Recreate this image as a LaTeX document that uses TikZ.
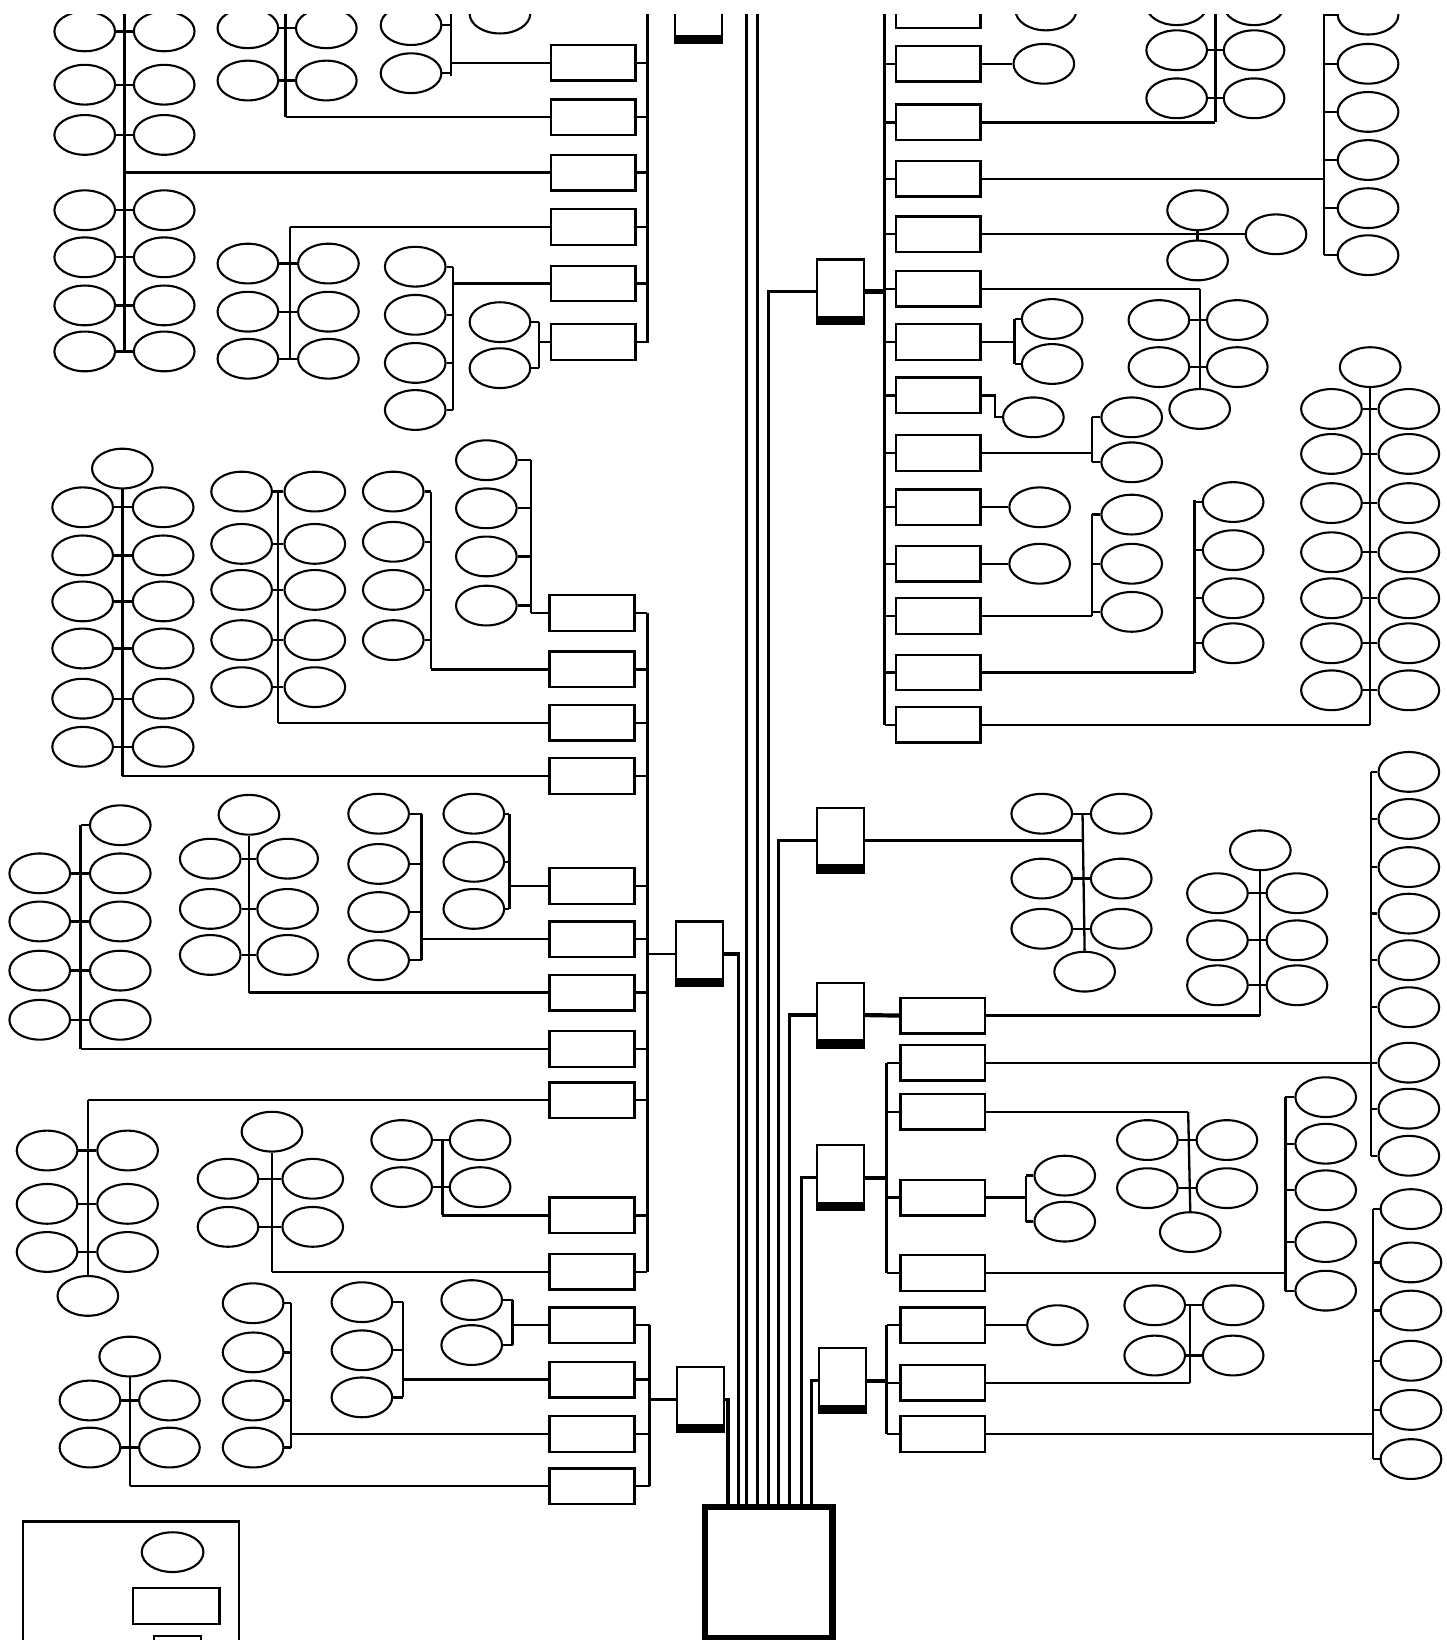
\documentclass[tikz,border=0pt]{standalone}
\usetikzlibrary{shapes.geometric}
\newcommand\mySpine[4]{\coordinate (#1t) at (#2,#3); \coordinate (#1b) at (#2,#4); \draw[wire] (#1t) -- (#1b);}
\newcommand\myPair[4]{\node[ell] (#1l) at (#2,#4) {}; \node[ell] (#1r) at (#3,#4) {}; \draw[wire] (#1l) -- (#1r);}
\newcommand\myPairs[4]{\foreach \yy [count=\ii] in {#4} {\myPair{#1\ii}{#2}{#3}{\yy}}}
\newcommand\myColL[3]{\foreach \yy [count=\ii] in {#3} {\node[ell] (#1\ii) at (#2,\yy) {}; \draw[wire] (#1\ii.east) -- (#1\ii.east -| #1t);}}
\newcommand\myColR[3]{\foreach \yy [count=\ii] in {#3} {\node[ell] (#1\ii) at (#2,\yy) {}; \draw[wire] (#1\ii.west) -- (#1\ii.west -| #1t);}}
\newcommand\myLinkW[2]{\draw[wire] (#1.west) -- (#1.west -| #2t);}
\newcommand\myLinkE[2]{\draw[wire] (#1.east) -- (#1.east -| #2t);}
\begin{document}
\begin{tikzpicture}[x=0.5pt,y=-0.5pt,
 ell/.style={ellipse,draw,line width=1pt,minimum width=29pt,minimum height=19pt,inner sep=0pt},
 rbox/.style={rectangle,draw,line width=1.1pt,minimum width=40.5pt,minimum height=17pt,inner sep=0pt},
 pbox/.style={rectangle,draw,line width=1.1pt,minimum width=22.5pt,minimum height=31pt,inner sep=0pt,
   path picture={\fill (path picture bounding box.south west) rectangle ([yshift=4pt]path picture bounding box.south east);}},
 wire/.style={line width=1.1pt},
 bus/.style={line width=1.4pt},
 trunk/.style={line width=1.6pt}]
\useasboundingbox (0,0) rectangle (1383,1568);
\clip (0,14) rectangle (1383,1568);

% ================= LEFT TOP (cut parent) =================
\node[pbox] (PT) at (668,10) {};
\coordinate (BLt) at (619,0); \coordinate (BLb) at (619,328);
\draw[bus] (BLt) -- (BLb);
\foreach \yy [count=\ii] in {60,112,165,217,271,327} {\node[rbox] (ra\ii) at (567,\yy) {}; \draw[wire] (ra\ii.east) -- (ra\ii.east -| BLt);}
\mySpine{gA}{119}{0}{336} \myPairs{gA}{81}{157}{30,81,129,201,246,292,336} \myLinkW{ra3}{gA}
\mySpine{gB}{273}{0}{112} \myPairs{gB}{237}{312}{27,77} \myLinkW{ra2}{gB}
\mySpine{gC}{431}{0}{73} \myColL{gC}{393}{24,70} \myLinkW{ra1}{gC}
\node[ell] (gCx) at (478,13) {};
\mySpine{gD}{277}{217}{343} \myPairs{gD}{237}{314}{252,298,343} \myLinkW{ra4}{gD}
\mySpine{gE}{433}{255}{392} \myColL{gE}{397}{255,301,347,392} \myLinkW{ra5}{gE}
\mySpine{gF}{515}{308}{352} \myColL{gF}{478}{308,352} \myLinkW{ra6}{gF}

% ================= P_L1 =================
\node[pbox] (PL1) at (669,912) {};
\coordinate (BMt) at (619,586); \coordinate (BMb) at (619,1216);
\draw[bus] (BMt) -- (BMb);
\draw[wire] (PL1.west) -- (PL1.west -| BMt);
\foreach \yy [count=\ii] in {586,640,691,742,847,898,949,1003,1052,1162,1216} {\node[rbox] (rb\ii) at (566,\yy) {}; \draw[wire] (rb\ii.east) -- (rb\ii.east -| BMt);}
\mySpine{gJ}{508}{440}{586} \myColL{gJ}{465}{440,486,532,579} \myLinkW{rb1}{gJ}
\mySpine{gI}{412}{470}{640} \myColL{gI}{376}{470,518,564,612} \myLinkW{rb2}{gI}
\mySpine{gH}{266}{470}{691} \myPairs{gH}{231}{301}{470,520,564,612,657} \myLinkW{rb3}{gH}
\node[ell] (gG0) at (117,448) {}; \coordinate (gGt) at (gG0.south); \coordinate (gGb) at (117,742);
\draw[wire] (gGt) -- (gGb);
\myPairs{gG}{79}{156}{485,531,575,620,668,714} \myLinkW{rb4}{gG}
\mySpine{gN}{487}{778}{869} \myColL{gN}{453}{778,824,869} \myLinkW{rb5}{gN}
\mySpine{gM}{403}{778}{918} \myColL{gM}{362}{778,826,872,918} \myLinkW{rb6}{gM}
\node[ell] (gL0) at (238,779) {}; \coordinate (gLt) at (gL0.south); \coordinate (gLb) at (238,949);
\draw[wire] (gLt) -- (gLb);
\myPairs{gL}{201}{275}{821,869,913} \myLinkW{rb7}{gL}
\mySpine{gK}{77}{789}{1003} \myColR{gK}{115}{789} \myPairs{gKp}{38}{115}{835,881,928,975} \myLinkW{rb8}{gK}
\coordinate (gOt) at (84,1052); \node[ell] (gOz) at (84,1239) {};
\draw[wire] (gOt) -- (gOz.north);
\myPairs{gO}{45}{122}{1100,1151,1197} \myLinkW{rb9}{gO}
\mySpine{gQ}{423}{1090}{1162} \myPairs{gQ}{384}{459}{1090,1135} \myLinkW{rb10}{gQ}
\node[ell] (gP0) at (260,1082) {}; \coordinate (gPt) at (gP0.south); \coordinate (gPb) at (260,1216);
\draw[wire] (gPt) -- (gPb);
\myPairs{gP}{218}{299}{1127,1173} \myLinkW{rb11}{gP}

% ================= P_L2 =================
\node[pbox] (PL2) at (670,1338) {};
\coordinate (BNt) at (621,1267); \coordinate (BNb) at (621,1421);
\draw[bus] (BNt) -- (BNb);
\draw[wire] (PL2.west) -- (PL2.west -| BNt);
\foreach \yy [count=\ii] in {1267,1319,1371,1421} {\node[rbox] (rc\ii) at (566,\yy) {}; \draw[wire] (rc\ii.east) -- (rc\ii.east -| BNt);}
\mySpine{gR}{490}{1243}{1286} \myColL{gR}{451}{1243,1286} \myLinkW{rc1}{gR}
\mySpine{gS}{385}{1245}{1336} \myColL{gS}{346}{1245,1291,1336} \myLinkW{rc2}{gS}
\mySpine{gT}{278}{1246}{1384} \myColL{gT}{242}{1246,1293,1339,1384} \myLinkW{rc3}{gT}
\node[ell] (gU0) at (124,1297) {}; \coordinate (gUt) at (gU0.south); \coordinate (gUb) at (124,1421);
\draw[wire] (gUt) -- (gUb);
\myPairs{gU}{86}{162}{1339,1384} \myLinkW{rc4}{gU}

% ================= P_R1 =================
\node[pbox] (PR1) at (803.5,279) {};
\coordinate (BRt) at (846,0); \coordinate (BRb) at (846,693);
\draw[bus] (BRt) -- (BRb);
\draw[line width=2.4pt] (PR1.east) -- (PR1.east -| BRt);
\foreach \yy [count=\ii from 0] in {10,61,117,171,224,276,327,378,433,485,539,589,643,693} {\node[rbox] (rd\ii) at (897,\yy) {}; \draw[wire] (rd\ii.west) -- (rd\ii.west -| BRt);}
\node[ell] (h0) at (1000,10) {}; \draw[wire] (rd0) -- (h0);
\node[ell] (h1) at (998,61) {}; \draw[wire] (rd1) -- (h1);
\mySpine{gV}{1162}{0}{117} \myPairs{gV}{1125}{1199}{5,48,94} \myLinkE{rd2}{gV}
\mySpine{gW}{1266}{0}{244} \myColR{gW}{1308}{14,61,107,153,199,244} \myLinkE{rd3}{gW}
\node[ell] (h4) at (1220,224) {}; \draw[wire] (rd4) -- (h4);
\node[ell] (v4a) at (1145,201) {}; \node[ell] (v4b) at (1145,249) {}; \draw[wire] (v4a) -- (v4b);
\coordinate (gXt) at (1147,276); \node[ell] (gXz) at (1147,391) {};
\draw[wire] (gXt) -- (gXz.north);
\myPairs{gX}{1108}{1183}{306,351} \myLinkE{rd5}{gX}
\mySpine{gY}{970}{305}{348} \myColR{gY}{1006}{305,348} \myLinkE{rd6}{gY}
\node[ell] (h7) at (988,399) {}; \draw[wire] (rd7.east) -- ++(13,0) |- (h7.west);
\mySpine{gZ}{1044}{399}{442} \myColR{gZ}{1082}{399,442} \myLinkE{rd8}{gZ}
\node[ell] (h9) at (994,485) {}; \draw[wire] (rd9) -- (h9);
\node[ell] (h10) at (994,539) {}; \draw[wire] (rd10) -- (h10);
\mySpine{gAA}{1044}{491}{589} \myColR{gAA}{1082}{492,539,585} \myLinkE{rd11}{gAA}
\mySpine{gAB}{1142}{478}{643} \myColR{gAB}{1179}{480,526,572,615} \myLinkE{rd12}{gAB}
\node[ell] (gAC0) at (1310,351) {}; \coordinate (gACt) at (gAC0.south); \coordinate (gACb) at (1310,693);
\draw[wire] (gACt) -- (gACb);
\myPairs{gAC}{1273}{1347}{391,434,481,528,572,615,660} \myLinkE{rd13}{gAC}

% ================= P_R2 =================
\node[pbox] (PR2) at (803.5,803.5) {};
\coordinate (gBBt) at (1035,778); \node[ell] (gBBz) at (1037,929) {};
\draw[wire] (gBBt) -- (gBBz.north);
\myPairs{gBB}{996}{1072}{778,840,888}
\draw[wire] (PR2.east) -- (PR2.east -| gBBt);

% ================= P_R3 =================
\node[pbox] (PR3) at (803.5,970.5) {};
\node[rbox] (re1) at (901.5,971) {};
\draw[line width=2pt] (PR3.east) -- (re1.west);
\node[ell] (gCC0) at (1205,813) {}; \coordinate (gCCt) at (gCC0.south); \coordinate (gCCb) at (1205,971);
\draw[wire] (gCCt) -- (gCCb);
\myPairs{gCC}{1164}{1240}{854,899,942} \myLinkE{re1}{gCC}

% ================= P_R4 =================
\node[pbox] (PR4) at (803.5,1126) {};
\coordinate (BFt) at (847.6,1016); \coordinate (BFb) at (847.6,1217);
\draw[bus] (BFt) -- (BFb);
\draw[line width=2pt] (PR4.east) -- (PR4.east -| BFt);
\foreach \yy [count=\ii] in {1016,1063,1145,1217} {\node[rbox] (rf\ii) at (901.5,\yy) {}; \draw[wire] (rf\ii.west) -- (rf\ii.west -| BFt);}
\mySpine{gDD}{1310.5}{738}{1105} \myColR{gDD}{1347}{738,783,829,873.5,918,963,1016,1060,1105}
\draw[wire] (rf1.east) -- (gDD7.west);
\coordinate (gEEt) at (1136,1063); \node[ell] (gEEz) at (1138,1178) {};
\draw[wire] (gEEt) -- (gEEz.north);
\myPairs{gEE}{1097}{1173}{1090,1136} \myLinkE{rf2}{gEE}
\mySpine{gFF}{981}{1124}{1168} \myColR{gFF}{1018}{1124,1168} \myLinkE{rf3}{gFF}
\mySpine{gGG}{1229}{1049}{1234} \myColR{gGG}{1267.5}{1049,1093.5,1138,1187.5,1234} \myLinkE{rf4}{gGG}

% ================= P_R5 =================
\node[pbox] (PR5) at (805.5,1320) {};
\coordinate (BGt) at (847.6,1267); \coordinate (BGb) at (847.6,1371);
\draw[bus] (BGt) -- (BGb);
\draw[line width=2pt] (PR5.east) -- (PR5.east -| BGt);
\foreach \yy [count=\ii] in {1267,1322,1371} {\node[rbox] (rg\ii) at (901.5,\yy) {}; \draw[wire] (rg\ii.west) -- (rg\ii.west -| BGt);}
\node[ell] (hg1) at (1011,1267) {}; \draw[wire] (rg1) -- (hg1);
\mySpine{gHH}{1138}{1248}{1322} \myPairs{gHH}{1104}{1179}{1248,1296} \myLinkE{rg2}{gHH}
\mySpine{gII}{1313}{1156}{1395} \myColR{gII}{1349}{1156,1207,1253,1301,1348,1395} \myLinkE{rg3}{gII}

% ================= ROOT and trunks =================
\node[draw,line width=3pt,minimum width=61pt,minimum height=62.5pt,inner sep=0pt] (root) at (735,1503.5) {};
\coordinate (tL2) at (696,1441); \coordinate (tL1) at (706,1441);
\coordinate (tTa) at (713.5,1441); \coordinate (tTat) at (713.5,0);
\coordinate (tTb) at (724,1441); \coordinate (tTbt) at (724,0);
\coordinate (tR1) at (735,1441); \coordinate (tR2) at (744,1441);
\coordinate (tR3) at (755,1441); \coordinate (tR4) at (766,1441);
\coordinate (tR5) at (775.6,1441);
\draw[trunk] (PL2.east) -| (tL2);
\draw[trunk] (PL1.east) -| (tL1);
\draw[trunk] (tTat) -- (tTa);
\draw[trunk] (tTbt) -- (tTb);
\draw[trunk] (PR1.west) -| (tR1);
\draw[trunk] (PR2.west) -| (tR2);
\draw[trunk] (PR3.west) -| (tR3);
\draw[trunk] (PR4.west) -| (tR4);
\draw[trunk] (PR5.west) -| (tR5);

% ================= LEGEND =================
\node[draw,line width=1pt,anchor=north west,minimum width=103.5pt,minimum height=80pt,inner sep=0pt] (legend) at (20.7,1453.7) {};
\node[ell,minimum width=29.5pt] (legE) at (165,1484) {};
\node[rbox,minimum width=41.5pt,minimum height=17.5pt] (legR) at (168.5,1535.5) {};
\node[pbox] (legP) at (170,1595) {};
\end{tikzpicture}
\end{document}
